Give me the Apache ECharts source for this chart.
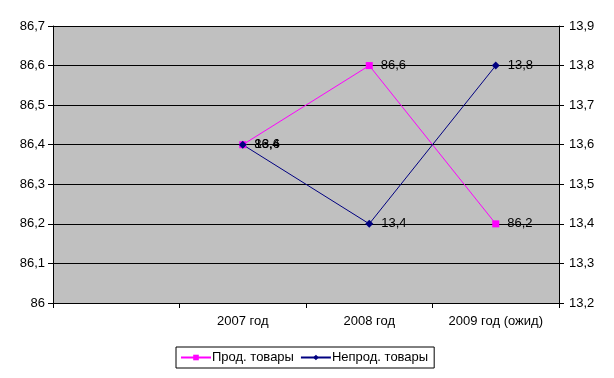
<!DOCTYPE html>
<html>
<head>
<meta charset="utf-8">
<script src="https://cdn.jsdelivr.net/npm/echarts@6/dist/echarts.min.js"></script>
<style>
  html, body { margin: 0; padding: 0; background: #fff; }
  #chart { width: 614px; height: 378px; }
</style>
</head>
<body>
<div id="chart"></div>
<script>
// категории (первая пустая, как в оригинале)
const categories = ['', '2007 год', '2008 год', '2009 год (ожид)']
const prodGoods = [null, 86.4, 86.6, 86.2]
const nonProdGoods = [null, 13.6, 13.4, 13.8]
const leftTicks = { min: 86, max: 86.7, step: 0.1 }
const rightTicks = { min: 13.2, max: 13.9, step: 0.1 }

const fmt = v => String(+(+v).toFixed(1)).replace('.', ',')
const font = 'Liberation Sans, Arial, sans-serif'
const fs = 13

let myChart = echarts.init(document.getElementById('chart'))
myChart.setOption({
    animation: false,
    textStyle: { fontFamily: font },
    grid: {
        left: 53,
        right: 55,
        top: 26,
        bottom: 75,
        show: true,
        backgroundColor: '#c0c0c0',
        borderWidth: 0
    },
    legend: {
        bottom: 10,
        left: 176,
        itemWidth: 30,
        itemHeight: 7,
        itemGap: 6,
        padding: [4, 6, 4, 4],
        borderColor: '#000',
        borderWidth: 1,
        borderRadius: 0,
        textStyle: { fontSize: fs, color: '#000', fontFamily: font, padding: [0, 0, 0, -4] },
        data: ['Прод. товары', 'Непрод. товары']
    },
    xAxis: {
        type: 'category',
        data: categories,
        boundaryGap: true,
        axisLine: { lineStyle: { color: '#000', width: 1 } },
        axisTick: { show: true, length: 5, interval: 0, lineStyle: { color: '#000' } },
        axisLabel: { interval: 0, margin: 12, fontSize: fs, color: '#000', fontFamily: font }
    },
    yAxis: [
        {
            type: 'value',
            min: leftTicks.min,
            max: leftTicks.max,
            interval: leftTicks.step,
            axisLine: { show: true, lineStyle: { color: '#000' } },
            axisTick: { show: true, length: 5, lineStyle: { color: '#000' } },
            axisLabel: { formatter: fmt, margin: 8, fontSize: fs, color: '#000', fontFamily: font },
            splitLine: { show: true, lineStyle: { color: '#000', width: 1 } }
        },
        {
            type: 'value',
            min: rightTicks.min,
            max: rightTicks.max,
            interval: rightTicks.step,
            position: 'right',
            axisLine: { show: true, lineStyle: { color: '#000' } },
            axisTick: { show: true, length: 5, lineStyle: { color: '#000' } },
            axisLabel: { formatter: fmt, margin: 10, fontSize: fs, color: '#000', fontFamily: font },
            splitLine: { show: false }
        }
    ],
    series: [
        {
            name: 'Прод. товары',
            type: 'line',
            yAxisIndex: 0,
            data: prodGoods,
            symbol: 'rect',
            symbolSize: 7,
            showSymbol: true,
            color: '#ff00ff',
            lineStyle: { width: 1, color: '#ff00ff' },
            itemStyle: { color: '#ff00ff' },
            label: {
                show: true,
                position: 'right',
                distance: 8,
                formatter: p => fmt(p.value),
                fontSize: fs,
                color: '#000',
                fontFamily: font
            }
        },
        {
            name: 'Непрод. товары',
            type: 'line',
            yAxisIndex: 1,
            data: nonProdGoods,
            symbol: 'diamond',
            symbolSize: 8,
            showSymbol: true,
            color: '#000080',
            lineStyle: { width: 1, color: '#000080' },
            itemStyle: { color: '#000080' },
            label: {
                show: true,
                position: 'right',
                distance: 8,
                formatter: p => fmt(p.value),
                fontSize: fs,
                color: '#000',
                fontFamily: font
            },
            labelLayout: { hideOverlap: false }
        }
    ]
})
window.addEventListener('resize', function () {
    myChart.resize()
})
</script>
</body>
</html>
